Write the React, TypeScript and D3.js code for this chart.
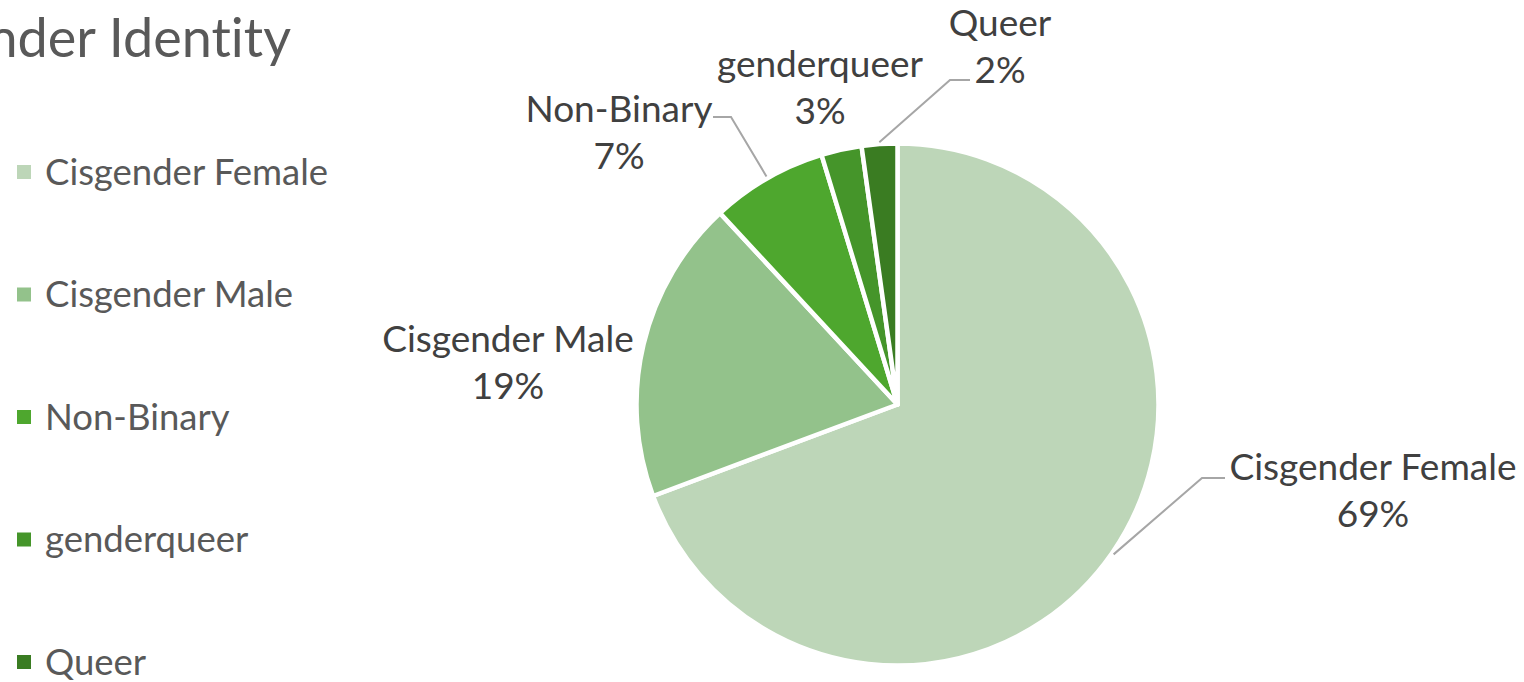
import React from "react";
import * as d3 from "d3";

const categories = ["Cisgender Female", "Cisgender Male", "Non-Binary", "genderqueer", "Queer"];
const values = [69.3, 18.8, 7.2, 2.5, 2.2];
const colors = ["#bdd6b8", "#93c28b", "#4ea72e", "#45952a", "#3a7c22"];
const title = "Gender Identity";

// layout for data labels (text center x, first baseline y) and leader elbows
const labelLayout: Record<string, { x: number; y: number; elbow?: [number, number]; end?: [number, number] }> = {
  "Cisgender Female": { x: 1373, y: 480, elbow: [1202, 478], end: [1225, 478] },
  "Cisgender Male": { x: 508, y: 352 },
  "Non-Binary": { x: 619, y: 122, elbow: [731, 117], end: [713, 117] },
  genderqueer: { x: 820, y: 77 },
  Queer: { x: 1000, y: 36, elbow: [950, 80], end: [970, 80] },
};

const W = 1524;
const H = 682;
const cx = 897.5;
const cy = 404.5;
const R = 261;
const FONT = "Lato, 'Open Sans', sans-serif";
const textStyle = { fontVariantLigatures: "none" as const };

export default function App() {
  const pie = d3.pie<number>().sort(null).value((d) => d);
  const arcs = pie(values);
  const arc = d3.arc<d3.PieArcDatum<number>>().innerRadius(0).outerRadius(R);
  const total = d3.sum(values);
  const pct = d3.format(".0%");

  return (
    <div style={{ position: "absolute", left: 0, top: 0 }}>
      <svg width={W} height={H} style={{ display: "block", background: "#fff" }}>
        <text x={291} y={57} textAnchor="end" fontFamily={FONT} fontSize={54} fill="#595959" style={textStyle}>
          {title}
        </text>
        {categories.map((c, i) => (
          <g key={c} transform={`translate(0, ${172 + i * 122.5})`}>
            <rect x={17} y={-7} width={14} height={14} fill={colors[i]} />
            <text x={45} y={0} dy="0.35em" fontFamily={FONT} fontSize={36.5} fill="#595959" style={textStyle}>
              {c}
            </text>
          </g>
        ))}
        <g transform={`translate(${cx}, ${cy})`}>
          {arcs.map((a, i) => (
            <path key={i} d={arc(a) || ""} fill={colors[i]} stroke="#fff" strokeWidth={4.5} strokeLinejoin="round" />
          ))}
        </g>
        {arcs.map((a, i) => {
          const c = categories[i];
          const L = labelLayout[c];
          const mid = (a.startAngle + a.endAngle) / 2;
          const sx = cx + Math.sin(mid) * (R + 2);
          const sy = cy - Math.cos(mid) * (R + 2);
          return (
            <g key={c}>
              {L.elbow && L.end && (
                <polyline
                  points={`${sx},${sy} ${L.elbow[0]},${L.elbow[1]} ${L.end[0]},${L.end[1]}`}
                  fill="none"
                  stroke="#a6a6a6"
                  strokeWidth={2}
                />
              )}
              <text x={L.x} y={L.y} textAnchor="middle" fontFamily={FONT} fontSize={37} fill="#404040" style={textStyle}>
                <tspan x={L.x}>{c}</tspan>
                <tspan x={L.x} dy={47}>{pct(values[i] / total)}</tspan>
              </text>
            </g>
          );
        })}
      </svg>
    </div>
  );
}
